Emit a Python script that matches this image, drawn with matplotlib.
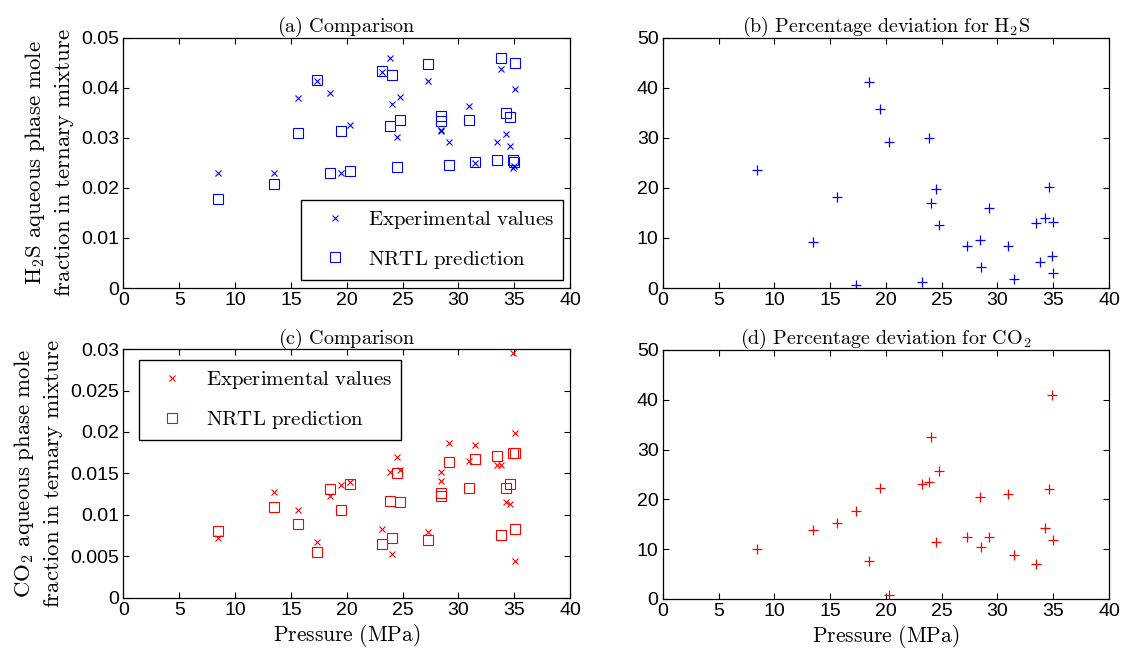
import numpy as np
import matplotlib
matplotlib.use("Agg")
import matplotlib.pyplot as plt

plt.rcParams['mathtext.fontset'] = 'cm'
plt.rcParams['font.family'] = ['Liberation Sans', 'DejaVu Sans']

# (a) H2S mole fraction: experimental vs NRTL
p_h2s = [8.5, 13.5, 15.6, 17.3, 18.5, 19.46, 20.3, 23.2, 23.9, 24.08, 24.47, 24.77,
         27.3, 28.45, 28.48, 29.2, 31.0, 31.48, 33.5, 33.8, 34.3, 34.67, 35.06, 34.9, 35.0]
h2s_exp = [0.0230, 0.0230, 0.0379, 0.0413, 0.0389, 0.0230, 0.0326, 0.0432, 0.0460, 0.0367,
           0.0302, 0.0382, 0.0413, 0.0316, 0.0313, 0.0292, 0.0363, 0.0250, 0.0292, 0.0438,
           0.0308, 0.0283, 0.0398, 0.0239, 0.0243]
h2s_nrtl = [0.0177, 0.0208, 0.0310, 0.0415, 0.0230, 0.0313, 0.0233, 0.0433, 0.0323, 0.0425,
            0.0242, 0.0335, 0.0448, 0.0343, 0.0333, 0.0245, 0.0335, 0.0252, 0.0255, 0.0460,
            0.0350, 0.0342, 0.0450, 0.0255, 0.0252]

# (b) percentage deviation for H2S
p_dev_h2s = [8.48, 13.5, 15.58, 17.28, 18.5, 19.46, 20.3, 23.2, 23.9, 24.06, 24.48, 24.75,
             27.25, 28.45, 28.48, 29.2, 30.96, 31.46, 33.43, 33.79, 34.3, 34.66, 34.9, 35.0, 35.0]
dev_h2s = [23.5, 9.2, 18.2, 0.6, 41.2, 35.7, 29.1, 1.2, 30.0, 17.0, 19.8, 12.6,
           8.3, 9.5, 4.3, 16.0, 8.3, 1.8, 13.0, 5.2, 13.9, 20.1, 6.4, 13.2, 3.0]

# (c) CO2 mole fraction: experimental vs NRTL
p_co2 = [8.5, 13.5, 15.6, 17.3, 18.5, 19.46, 20.3, 23.2, 23.9, 24.06, 24.47, 24.77,
         27.3, 28.45, 28.48, 29.2, 31.0, 31.48, 33.5, 33.8, 34.3, 34.67, 34.9, 35.06, 35.06]
co2_exp = [0.00722, 0.01283, 0.01059, 0.00674, 0.01223, 0.01360, 0.01392, 0.00834, 0.01524,
           0.00533, 0.01693, 0.01544, 0.00794, 0.01524, 0.01412, 0.01865, 0.01656, 0.01845,
           0.01604, 0.01604, 0.01155, 0.01135, 0.02948, 0.01993, 0.00441]
co2_nrtl = [0.00802, 0.01095, 0.00890, 0.00553, 0.01316, 0.01059, 0.01376, 0.00646, 0.01171,
            0.00718, 0.01504, 0.01151, 0.00702, 0.01263, 0.01223, 0.01636, 0.01320, 0.01672,
            0.01712, 0.00758, 0.01320, 0.01376, 0.01752, 0.01752, 0.00834]

# (d) percentage deviation for CO2
p_dev_co2 = [8.48, 13.5, 15.58, 17.28, 18.5, 19.46, 20.3, 23.2, 23.9, 24.06, 24.48, 24.75,
             27.25, 28.45, 28.48, 29.2, 30.96, 31.46, 33.43, 34.3, 34.66, 34.9, 35.0]
dev_co2 = [10.1, 13.9, 15.2, 17.6, 7.7, 22.3, 0.8, 23.0, 23.5, 32.6, 11.4, 25.7,
           12.4, 20.4, 10.4, 12.4, 21.1, 8.9, 7.0, 14.2, 22.0, 41.0, 11.8]

fig = plt.figure(figsize=(11.34, 6.58), dpi=100)
ax_a = fig.add_axes([0.1089, 0.5623, 0.3937, 0.3800])
ax_b = fig.add_axes([0.5844, 0.5623, 0.3936, 0.3800])
ax_c = fig.add_axes([0.1089, 0.0912, 0.3937, 0.3784])
ax_d = fig.add_axes([0.5844, 0.0897, 0.3936, 0.3784])

title_fs = 14.5
label_fs = 16.5
xlabel_fs = 15.5
tick_fs = 14
leg_fs = 15


def style(ax, ylim, yticks, yticklabels):
    ax.set_xlim(0, 40)
    ax.set_xticks(np.arange(0, 41, 5))
    ax.set_ylim(*ylim)
    ax.set_yticks(yticks)
    ax.set_yticklabels(yticklabels)
    ax.tick_params(direction='in', top=True, right=True, length=4,
                   width=0.8, labelsize=tick_fs, pad=3)
    for s in ax.spines.values():
        s.set_linewidth(0.9)


def legend(ax, **kw):
    lg = ax.legend(fontsize=leg_fs, frameon=True, fancybox=False, framealpha=1,
                   edgecolor='black', labelspacing=0.85, borderpad=0.45,
                   handletextpad=0.45, handlelength=2.3, borderaxespad=0, **kw)
    lg.get_frame().set_linewidth(1.0)
    return lg


# (a)
ax_a.plot(p_h2s, h2s_exp, 'x', color='blue', ms=4.5, mew=0.8,
          label=r'$\mathrm{Experimental\ values}$')
ax_a.plot(p_h2s, h2s_nrtl, 's', color='blue', mec='blue', mfc='none', ms=7.5, mew=0.8,
          label=r'$\mathrm{NRTL\ prediction}$')
style(ax_a, (0, 0.05), np.arange(0, 0.051, 0.01),
      ['0', '0.01', '0.02', '0.03', '0.04', '0.05'])
ax_a.set_title(r'$\mathrm{(a)\ Comparison}$', fontsize=title_fs, pad=4)
ax_a.set_ylabel(r'$\mathrm{H_2S\ aqueous\ phase\ mole}$' + '\n'
                + r'$\mathrm{fraction\ in\ ternary\ mixture}$',
                fontsize=label_fs, labelpad=4, linespacing=1.25)
legend(ax_a, loc='lower right', bbox_to_anchor=(0.985, 0.032))

# (b)
ax_b.plot(p_dev_h2s, dev_h2s, '+', color='blue', ms=7.5, mew=0.9)
style(ax_b, (0, 50), np.arange(0, 51, 10), [str(v) for v in range(0, 51, 10)])
ax_b.set_title(r'$\mathrm{(b)\ Percentage\ deviation\ for\ H_2S}$',
               fontsize=title_fs, pad=4)

# (c)
ax_c.plot(p_co2, co2_exp, 'x', color='red', ms=4.5, mew=0.8,
          label=r'$\mathrm{Experimental\ values}$')
ax_c.plot(p_co2, co2_nrtl, 's', color='red', mec='red', mfc='none', ms=7.5, mew=0.8,
          label=r'$\mathrm{NRTL\ prediction}$')
style(ax_c, (0, 0.03), np.arange(0, 0.0301, 0.005),
      ['0', '0.005', '0.01', '0.015', '0.02', '0.025', '0.03'])
ax_c.set_title(r'$\mathrm{(c)\ Comparison}$', fontsize=title_fs, pad=4)
ax_c.set_ylabel(r'$\mathrm{CO_2\ aqueous\ phase\ mole}$' + '\n'
                + r'$\mathrm{fraction\ in\ ternary\ mixture}$',
                fontsize=label_fs, labelpad=4, linespacing=1.25)
ax_c.set_xlabel(r'$\mathrm{Pressure\ (MPa)}$', fontsize=xlabel_fs, labelpad=2)
legend(ax_c, loc='upper left', bbox_to_anchor=(0.035, 0.956))

# (d)
ax_d.plot(p_dev_co2, dev_co2, '+', color='red', ms=7.5, mew=0.9)
style(ax_d, (0, 50), np.arange(0, 51, 10), [str(v) for v in range(0, 51, 10)])
ax_d.set_title(r'$\mathrm{(d)\ Percentage\ deviation\ for\ CO_2}$',
               fontsize=title_fs, pad=4)
ax_d.set_xlabel(r'$\mathrm{Pressure\ (MPa)}$', fontsize=xlabel_fs, labelpad=2)

fig.savefig('out.png', dpi=100)
